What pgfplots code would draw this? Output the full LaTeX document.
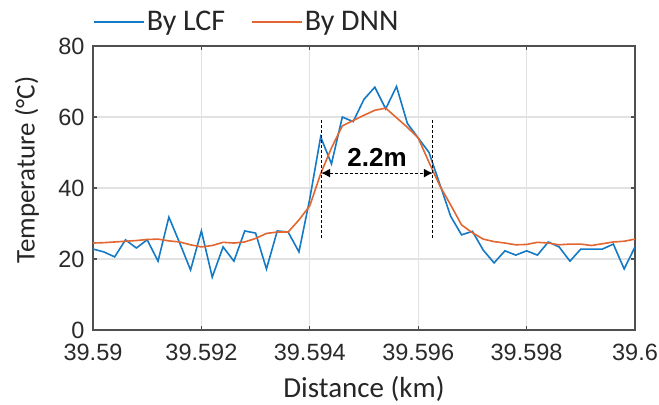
\documentclass[border=0pt]{standalone}
\usepackage{fontspec}
\setmainfont{Carlito}
\newfontfamily\arialfont{Liberation Sans}
\usepackage{pgfplots}
\usepackage{pgfplotstable}
\pgfplotsset{compat=1.18}
\usetikzlibrary{arrows.meta}

\definecolor{lcfblue}{RGB}{20,122,198}
\definecolor{dnnorange}{RGB}{226,102,50}
\definecolor{axisgray}{HTML}{505050}
\definecolor{gridgray}{HTML}{E2E2E2}
\definecolor{ticktext}{HTML}{2A2A2A}
\definecolor{labeltext}{HTML}{262626}

% Temperature profile around the hot spot.
% m   : position in metres past 39.590 km (0.2 m sampling)
% lcf : temperature recovered by LCF (degC)
% dnn : temperature recovered by the DNN (degC)
\pgfplotstableread{
m    lcf   dnn
0.0  22.8  24.5
0.2  22.0  24.6
0.4  20.6  24.8
0.6  25.4  25.0
0.8  23.1  25.2
1.0  25.4  25.5
1.2  19.4  25.6
1.4  31.8  25.1
1.6  24.5  24.8
1.8  16.9  24.0
2.0  27.9  23.4
2.2  14.9  23.8
2.4  23.4  24.7
2.6  19.4  24.5
2.8  27.9  24.8
3.0  27.3  25.8
3.2  17.2  27.2
3.4  27.9  27.6
3.6  27.6  27.6
3.8  22.0  31.0
4.0  37.0  35.0
4.2  54.4  44.0
4.4  46.8  51.3
4.6  60.0  57.5
4.8  58.7  59.0
5.0  65.0  60.5
5.2  68.4  61.9
5.4  62.3  62.5
5.6  68.6  59.8
5.8  58.2  57.1
6.0  54.1  54.1
6.2  50.0  47.2
6.4  41.0  40.6
6.6  32.0  35.2
6.8  26.8  29.6
7.0  27.8  27.4
7.2  22.5  25.6
7.4  18.9  24.9
7.6  22.3  24.5
7.8  21.1  24.0
8.0  22.3  24.1
8.2  21.1  24.7
8.4  24.8  24.5
8.6  23.4  24.0
8.8  19.4  24.2
9.0  22.8  24.2
9.2  22.8  23.8
9.4  22.8  24.3
9.6  24.2  24.8
9.8  17.2  25.0
10.0 23.4  25.6
}\profile

\begin{document}
\begin{tikzpicture}
\useasboundingbox (-93bp,-75bp) rectangle (566bp,330bp);
\begin{axis}[
  scale only axis,
  width=542bp, height=284bp,
  xmin=0, xmax=10, ymin=0, ymax=80,
  xtick={0,2,4,6,8,10},
  xticklabels={39.59,39.592,39.594,39.596,39.598,39.6},
  ytick={0,20,40,60,80},
  yticklabels={0,20,40,60,80},
  grid=major,
  major grid style={gridgray, line width=1.2bp},
  axis line style={axisgray, line width=1.6bp},
  tick style={axisgray, line width=1.2bp},
  tick align=inside,
  major tick length=4bp,
  xtick pos=both, ytick pos=both,
  xticklabel style={font=\arialfont\fontsize{23.5bp}{26bp}\selectfont, text=ticktext, yshift=-11bp},
  yticklabel style={font=\arialfont\fontsize{23.5bp}{26bp}\selectfont, text=ticktext, xshift=-5bp},
  xlabel={Distance (km)},
  xlabel style={font=\fontsize{29bp}{32bp}\selectfont, text=labeltext,
    at={(axis description cs:0.5,-0.2394)}, anchor=base},
  ylabel={Temperature (°C)},
  ylabel style={font=\fontsize{27bp}{30bp}\selectfont, text=labeltext,
    at={(axis description cs:-0.1218,0.563)}, anchor=center, rotate=0},
  legend columns=2,
  legend style={draw=none, fill=none, inner sep=0pt,
    at={(axis description cs:0.0,1.085)}, anchor=west,
    font=\fontsize{30bp}{32bp}\selectfont, text=labeltext,
    /tikz/every even column/.append style={column sep=24bp}},
  legend image code/.code={\draw[#1] (0bp,0bp) -- (50bp,0bp);},
]
\addplot[lcfblue, line width=1.6bp] table[x=m, y=lcf] {\profile};
\addlegendentry{By LCF}
\addplot[dnnorange, line width=1.6bp] table[x=m, y=dnn] {\profile};
\addlegendentry{By DNN}

% width of the hot spot at the 44 degC crossing
\draw[black, line width=1.1bp, dash pattern=on 3bp off 2bp]
  (axis cs:4.21,26) -- (axis cs:4.21,59.5);
\draw[black, line width=1.1bp, dash pattern=on 3bp off 2bp]
  (axis cs:6.27,26) -- (axis cs:6.27,59.5);
\draw[black, line width=1.1bp, dash pattern=on 3bp off 2bp,
  {Latex[length=9bp,width=9bp]}-{Latex[length=9bp,width=9bp]}]
  (axis cs:4.21,44.2) -- (axis cs:6.27,44.2);
\node[font=\arialfont\bfseries\fontsize{26bp}{28bp}\selectfont, text=black]
  at (axis cs:5.24,48.7) {2.2m};
\end{axis}
\end{tikzpicture}
\end{document}
